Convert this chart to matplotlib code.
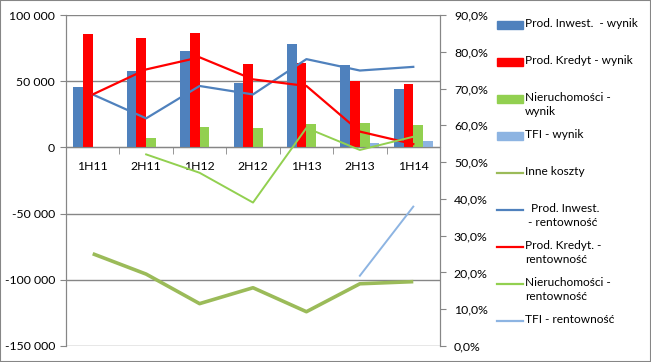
import numpy as np
import matplotlib
matplotlib.use("Agg")
import matplotlib.pyplot as plt
from matplotlib.patches import Rectangle
from matplotlib.lines import Line2D
from matplotlib.ticker import FuncFormatter, MultipleLocator, FixedLocator

plt.rcParams['font.family'] = ['Lato', 'DejaVu Sans']

# dane
okresy = ["1H11", "2H11", "1H12", "2H12", "1H13", "2H13", "1H14"]
inwest_wynik = [45300, 57400, 72500, 48300, 78000, 61900, 43800]
kredyt_wynik = [85600, 82300, 86300, 62900, 63700, 49800, 47600]
nieruch_wynik = [np.nan, 7000, 15100, 14400, 17600, 18100, 16600]
tfi_wynik = [np.nan, np.nan, np.nan, np.nan, np.nan, 3250, 4760]
inne_koszty = [-80300, -95700, -118000, -106000, -124100, -103000, -101400]
inwest_rent = [0.684, 0.619, 0.707, 0.684, 0.780, 0.749, 0.759]
kredyt_rent = [0.684, 0.752, 0.785, 0.725, 0.707, 0.583, 0.549]
nieruch_rent = [np.nan, 0.521, 0.471, 0.390, 0.593, 0.533, 0.569]
tfi_rent = [np.nan, np.nan, np.nan, np.nan, np.nan, 0.191, 0.379]

c_blue = "#4F81BD"
c_red = "#FF0000"
c_green = "#92D050"
c_tfi = "#8DB4E2"
c_olive = "#9BBB59"
c_grey = "#868686"

fig = plt.figure(figsize=(6.51, 3.62), dpi=100)
ax = fig.add_axes([66/651, 16/362, (440-66)/651, (346-15)/362])
ax2 = ax.twinx()

x = np.arange(len(okresy))
w = 1 / 5.5
bary = [(inwest_wynik, c_blue), (kredyt_wynik, c_red),
        (nieruch_wynik, c_green), (tfi_wynik, c_tfi)]
for i, (vals, col) in enumerate(bary):
    ax.bar(x + (i - 1.5) * w, vals, w, color=col, zorder=2)

ax.plot(x, inne_koszty, color=c_olive, lw=2.6, zorder=3, solid_capstyle='butt')

ax2.plot(x, inwest_rent, color=c_blue, lw=1.6)
ax2.plot(x, kredyt_rent, color=c_red, lw=1.6)
ax2.plot(x, nieruch_rent, color=c_green, lw=1.4)
ax2.plot(x, tfi_rent, color=c_tfi, lw=1.4)

ax.set_xlim(-0.5, len(okresy) - 0.5)
ax.set_ylim(-150000, 100000)
ax.yaxis.set_major_locator(MultipleLocator(50000))
ax.yaxis.set_major_formatter(FuncFormatter(lambda v, p: f"{int(v):,}".replace(",", " ")))
ax.grid(axis='y', color=c_grey, lw=1, zorder=0)
ax.set_axisbelow(True)

ax2.set_ylim(0, 0.9)
ax2.yaxis.set_major_locator(MultipleLocator(0.1))
ax2.yaxis.set_major_formatter(FuncFormatter(lambda v, p: f"{v*100:.1f}%".replace(".", ",")))

ax.spines['bottom'].set_position(('data', 0))
ax.set_xticks(x)
ax.set_xticklabels(okresy)
ax.xaxis.set_minor_locator(FixedLocator(np.arange(-0.5, len(okresy), 1)))
ax.tick_params(axis='x', which='major', length=0, pad=10, labelsize=8.8)
ax.tick_params(axis='x', which='minor', length=5, color=c_grey, direction='out')
ax.tick_params(axis='y', length=4, color=c_grey, pad=4, labelsize=8.8)
ax2.tick_params(axis='y', length=4, color=c_grey, pad=6, labelsize=8.8)

for a in (ax, ax2):
    a.spines['top'].set_visible(False)
    for s in ('left', 'right', 'bottom'):
        a.spines[s].set_color(c_grey)
ax2.spines['bottom'].set_visible(False)

# legenda
legenda = [
    ("Prod. Inwest.  - wynik", 'bar', c_blue),
    ("Prod. Kredyt - wynik", 'bar', c_red),
    ("Nieruchomości -\nwynik", 'bar', c_green),
    ("TFI - wynik", 'bar', c_tfi),
    ("Inne koszty", 'line', c_olive),
    ("  Prod. Inwest.\n - rentowność", 'line', c_blue),
    ("Prod. Kredyt. -\nrentowność", 'line', c_red),
    ("Nieruchomości -\nrentowność", 'line', c_green),
    ("TFI - rentowność", 'line', c_tfi),
]
W, H = 651, 362
for i, (lab, kind, col) in enumerate(legenda):
    yc = 25 + i * 37.0
    if kind == 'bar':
        fig.add_artist(Rectangle((497 / W, 1 - (yc + 4) / H), 26 / W, 8 / H,
                                 transform=fig.transFigure, color=col))
    else:
        fig.add_artist(Line2D([497 / W, 523 / W], [1 - yc / H] * 2,
                              transform=fig.transFigure, color=col, lw=1.6))
    fig.text(525 / W, 1 - (yc - 7) / H, lab, fontsize=8.6, va='top', ha='left',
             linespacing=1.3)

fig.add_artist(Rectangle((0, 0), 1, 1, transform=fig.transFigure, fill=False,
                         ec=c_grey, lw=1.5))

fig.savefig("out.png", dpi=100)
